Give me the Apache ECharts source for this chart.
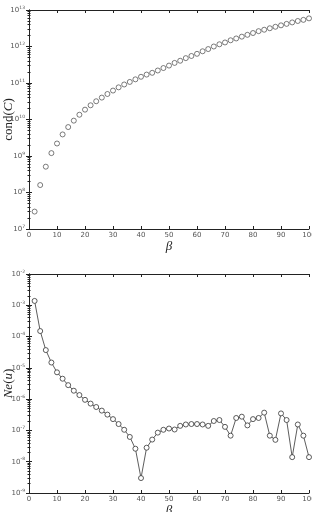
<!DOCTYPE html>
<html>
<head>
<meta charset="utf-8">
<script src="https://cdn.jsdelivr.net/npm/echarts@6/dist/echarts.min.js"></script>
<style>
  html, body { margin: 0; padding: 0; background: #fff; }
  #chart { width: 312px; height: 512px; }
</style>
</head>
<body>
<div id="chart"></div>
<script>
// beta values (same for both panels)
const beta = [2, 4, 6, 8, 10, 12, 14, 16, 18, 20, 22, 24, 26, 28, 30, 32, 34, 36, 38, 40,
  42, 44, 46, 48, 50, 52, 54, 56, 58, 60, 62, 64, 66, 68, 70, 72, 74, 76, 78, 80,
  82, 84, 86, 88, 90, 92, 94, 96, 98, 100];

// top panel: cond(C)
const condC = [3.0e7, 1.6e8, 5.1e8, 1.2e9, 2.2e9, 3.9e9, 6.2e9, 9.3e9, 1.35e10, 1.86e10,
  2.45e10, 3.16e10, 3.98e10, 5.0e10, 6.2e10, 7.6e10, 9.1e10, 1.07e11, 1.26e11, 1.48e11,
  1.7e11, 1.9e11, 2.2e11, 2.57e11, 3.0e11, 3.55e11, 4.07e11, 4.8e11, 5.5e11, 6.3e11,
  7.4e11, 8.5e11, 1.0e12, 1.15e12, 1.29e12, 1.48e12, 1.66e12, 1.86e12, 2.09e12, 2.34e12,
  2.63e12, 2.88e12, 3.16e12, 3.47e12, 3.8e12, 4.17e12, 4.57e12, 5.0e12, 5.37e12, 5.9e12];

// bottom panel: Ne(u)
const neU = [1.38e-3, 1.5e-4, 3.7e-5, 1.48e-5, 7.2e-6, 4.5e-6, 2.8e-6, 1.86e-6, 1.35e-6, 9.5e-7,
  7.2e-7, 5.6e-7, 4.3e-7, 3.2e-7, 2.3e-7, 1.6e-7, 1.05e-7, 6.2e-8, 2.6e-8, 3.0e-9,
  2.8e-8, 5.1e-8, 8.5e-8, 1.05e-7, 1.15e-7, 1.07e-7, 1.4e-7, 1.55e-7, 1.6e-7, 1.6e-7,
  1.55e-7, 1.4e-7, 2.0e-7, 2.15e-7, 1.3e-7, 6.8e-8, 2.5e-7, 2.75e-7, 1.45e-7, 2.3e-7,
  2.5e-7, 3.7e-7, 6.8e-8, 5.0e-8, 3.5e-7, 2.15e-7, 1.4e-8, 1.55e-7, 6.8e-8, 1.4e-8];

const xTicks = { min: 0, max: 100, interval: 10 };
const topRange = { min: 1e7, max: 1e13 };
const botRange = { min: 1e-9, max: 1e-2 };

const lineColor = "#222";
const labelColor = "#555";

function powLabel(v) {
  const e = Math.round(Math.log10(v));
  return "{b|10}{e|" + e + "}";
}
const powRich = {
  b: { fontSize: 7, color: labelColor, fontFamily: "DejaVu Sans" },
  e: { fontSize: 4.5, color: labelColor, fontFamily: "DejaVu Sans", padding: [0, 0, 5, 0] },
};

function xAxisPair(gridIndex, withName) {
  return [
    {
      gridIndex: gridIndex,
      type: "value",
      min: xTicks.min,
      max: xTicks.max,
      interval: xTicks.interval,
      position: "bottom",
      name: withName ? "β" : "",
      nameLocation: "middle",
      nameGap: 11,
      nameMoveOverlap: false,
      nameTextStyle: { fontFamily: "Liberation Serif", fontStyle: "italic", fontSize: 13, color: "#222" },
      axisLine: { lineStyle: { color: lineColor, width: 1 } },
      axisTick: { inside: true, length: 3, lineStyle: { color: lineColor } },
      axisLabel: { fontSize: 7, color: labelColor, margin: 3, fontFamily: "DejaVu Sans" },
      splitLine: { show: false },
    },
    {
      gridIndex: gridIndex,
      type: "value",
      min: xTicks.min,
      max: xTicks.max,
      interval: xTicks.interval,
      position: "top",
      axisLine: { lineStyle: { color: lineColor, width: 1 } },
      axisTick: { inside: true, length: 3, lineStyle: { color: lineColor } },
      axisLabel: { show: false },
      splitLine: { show: false },
    },
  ];
}

function yAxisPair(gridIndex, range, name) {
  const common = {
    gridIndex: gridIndex,
    type: "log",
    logBase: 10,
    min: range.min,
    max: range.max,
    axisLine: { lineStyle: { color: lineColor, width: 1 } },
    axisTick: { inside: true, length: 3, lineStyle: { color: lineColor } },
    minorTick: { show: true, splitNumber: 9, length: 1.5, lineStyle: { color: lineColor } },
    splitLine: { show: false },
  };
  return [
    Object.assign({}, common, {
      position: "left",
      name: name,
      nameLocation: "middle",
      nameGap: 14,
      nameRotate: 90,
      nameMoveOverlap: false,
      nameTextStyle: {
        rich: {
          r: { fontFamily: "Liberation Serif", fontSize: 13, color: "#222" },
          i: { fontFamily: "Liberation Serif", fontStyle: "italic", fontSize: 13, color: "#222" },
        },
      },
      axisLabel: { formatter: powLabel, rich: powRich, margin: 4 },
    }),
    Object.assign({}, common, {
      position: "right",
      axisLabel: { show: false },
    }),
  ];
}

const chart = echarts.init(document.getElementById("chart"));
chart.setOption({
  animation: false,
  backgroundColor: "#fff",
  grid: [
    { left: 29, top: 10, width: 280, height: 219, outerBoundsMode: "none", containLabel: false },
    { left: 29, top: 274, width: 280, height: 219, outerBoundsMode: "none", containLabel: false },
  ],
  xAxis: [].concat(xAxisPair(0, true), xAxisPair(1, true)),
  yAxis: [].concat(
    yAxisPair(0, topRange, "{r|cond(}{i|C}{r|)}"),
    yAxisPair(1, botRange, "{i|Ne}{r|(}{i|u}{r|)}")
  ),
  series: [
    {
      type: "scatter",
      xAxisIndex: 0,
      yAxisIndex: 0,
      data: beta.map((b, i) => [b, condC[i]]),
      symbol: "circle",
      symbolSize: 5,
      itemStyle: { color: "#fff", borderColor: "#333", borderWidth: 0.8 },
    },
    {
      type: "line",
      xAxisIndex: 2,
      yAxisIndex: 2,
      data: beta.map((b, i) => [b, neU[i]]),
      symbol: "circle",
      symbolSize: 5,
      showAllSymbol: true,
      lineStyle: { color: "#333", width: 0.8 },
      itemStyle: { color: "#fff", borderColor: "#333", borderWidth: 0.8 },
    },
  ],
});
window.addEventListener("resize", function () {
  chart.resize();
});
</script>
</body>
</html>
